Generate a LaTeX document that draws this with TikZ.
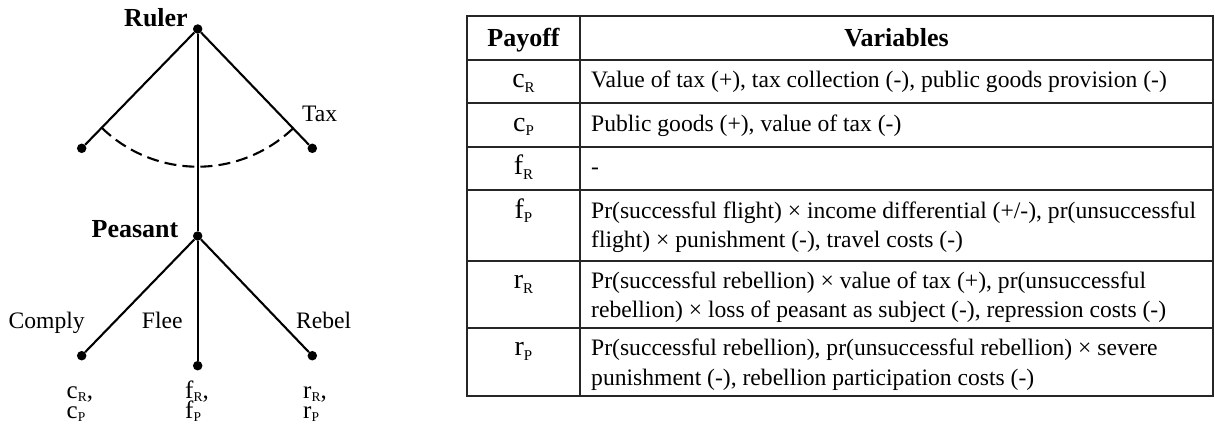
\documentclass[tikz,border=0pt]{standalone}
\usepackage{fontspec}
\setmainfont{Liberation Serif}
\newcommand{\pay}[2]{{\fontsize{28}{28}\selectfont #1}\raisebox{-0.2em}{\fontsize{15}{15}\selectfont #2}}
\newcommand{\tpay}[2]{{\fontsize{25}{20}\selectfont #1}\raisebox{-3pt}{\fontsize{13.5}{13.5}\selectfont #2}}
\newcommand{\tightlines}{\fontsize{25}{20}\selectfont\lineskiplimit=-30pt\relax}
\tikzset{
  txt/.style={font=\fontsize{23.6}{29}\selectfont, inner sep=0pt, anchor=base west},
  ctr/.style={font=\fontsize{23.6}{29}\selectfont, inner sep=0pt, anchor=base},
  tp/.style={font={\tightlines}, inner sep=0pt, anchor=base west, align=left},
  hdr/.style={font=\fontsize{26}{30}\selectfont\bfseries, inner sep=0pt, anchor=base},
  dot/.style={circle, fill=black, inner sep=0pt, minimum size=9.5pt},
  edge/.style={line width=2.1pt, black},
  infoset/.style={line width=2.1pt, dash pattern=on 12pt off 6.1pt},
  tbl/.style={line width=1.7pt, black!85}
}
\begin{document}
\begin{tikzpicture}[x=1pt,y=-1pt]
\useasboundingbox (0,0) rectangle (1215,432);
% ---------------- game tree ----------------
\node[dot] (ruler) at (197.7,29) {};
\node[dot] (ltax) at (81.7,148.3) {};
\node[dot] (rtax) at (312.3,148.3) {};
\node[dot] (peasant) at (197.7,236) {};
\node[dot] (comply) at (81.7,355.7) {};
\node[dot] (flee) at (197.7,365.7) {};
\node[dot] (rebel) at (312.3,355.7) {};
\draw[edge] (ruler) -- (ltax);
\draw[edge] (ruler) -- (rtax);
\draw[edge] (ruler) -- (peasant);
\draw[edge] (peasant) -- (comply);
\draw[edge] (peasant) -- (flee);
\draw[edge] (peasant) -- (rebel);
\draw[infoset] plot[domain=46.2:134.2, samples=80] ({197.7+137.7*cos(\x)},{29+137.7*sin(\x)});
\node[hdr] (lruler) at (156,26) {Ruler};
\node[hdr] (lpeasant) at (135,237.3) {Peasant};
\node[ctr] (ltaxlab) at (319.7,121.7) {Tax};
\node[ctr] (lcomply) at (46.7,328.3) {Comply};
\node[ctr] (lflee) at (162.2,328.3) {Flee};
\node[ctr] (lrebel) at (323.7,328.3) {Rebel};
\node[tp] (pc) at (66.5,418.3) {\tpay{c}{R},\\\tpay{c}{P}};
\node[tp] (pf) at (185,418.3) {\tpay{f}{R},\\\tpay{f}{P}};
\node[tp] (pr) at (303,418.3) {\tpay{r}{R},\\\tpay{r}{P}};
% ---------------- table ----------------
\draw[tbl] (466.7,16) rectangle (1213.3,396);
\draw[tbl] (580,16) -- (580,396);
\foreach \yy in {60,103.3,146.7,190,260.7,328.3}
  \draw[tbl] (466.7,\yy) -- (1213.3,\yy);
\node[hdr] (hpay) at (523.5,46.5) {Payoff};
\node[hdr] (hvar) at (896.5,46.5) {Variables};
\node[ctr] (k1) at (523.5,87.5) {\pay{c}{R}};
\node[ctr] (k2) at (523.5,131) {\pay{c}{P}};
\node[ctr] (k3) at (523.5,174.5) {\pay{f}{R}};
\node[ctr] (k4) at (523.5,218) {\pay{f}{P}};
\node[ctr] (k5) at (523.5,288.3) {\pay{r}{R}};
\node[ctr] (k6) at (523.5,355.8) {\pay{r}{P}};
\node[txt] (v1) at (591,87.5) {Value of tax (+), tax collection (-), public goods provision (-)};
\node[txt] (v2) at (591,131) {Public goods (+), value of tax (-)};
\node[txt] (v3) at (591,174.5) {-};
\node[txt] (v4a) at (591,218) {Pr(successful flight) × income differential (+/-), pr(unsuccessful};
\node[txt] (v4b) at (591,247) {flight) × punishment (-), travel costs (-)};
\node[txt] (v5a) at (591,288.3) {Pr(successful rebellion) × value of tax (+), pr(unsuccessful};
\node[txt] (v5b) at (591,317) {rebellion) × loss of peasant as subject (-), repression costs (-)};
\node[txt] (v6a) at (591,355.8) {Pr(successful rebellion), pr(unsuccessful rebellion) × severe};
\node[txt] (v6b) at (591,385) {punishment (-), rebellion participation costs (-)};
\end{tikzpicture}
\end{document}
